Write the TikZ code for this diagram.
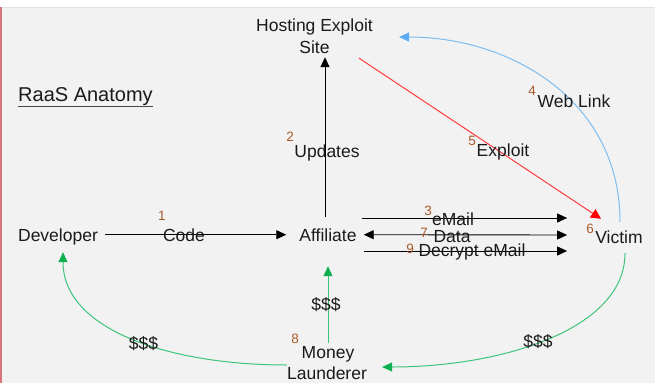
\documentclass[tikz,border=0pt]{standalone}
\usepackage{fontspec}
\setmainfont{Liberation Sans}
\usetikzlibrary{arrows.meta}
\definecolor{bgc}{HTML}{F2F2F2}
\definecolor{topc}{HTML}{E2E2E2}
\definecolor{leftc}{HTML}{D6767B}
\definecolor{txt}{HTML}{1A1A1A}
\definecolor{numc}{HTML}{A85A2A}
\definecolor{redc}{HTML}{FF3B3B}
\definecolor{bluec}{HTML}{7DBDF0}
\definecolor{bluehead}{HTML}{5AABF0}
\definecolor{greenc}{HTML}{3CC47A}
\definecolor{greenhead}{HTML}{10B050}
\begin{document}
\begin{tikzpicture}[x=1pt,y=-1pt,
  lbl/.style={font=\fontsize{17.5}{21}\selectfont, text=txt, inner sep=0pt, text height=12.6pt, text depth=0pt, anchor=center},
  num/.style={font=\fontsize{13.5}{14}\selectfont, text=numc, inner sep=0pt, anchor=center},
  arr/.style={draw=black, line width=0.9pt, -{Triangle[length=10pt,width=9pt]}},
  darr/.style={draw=black, line width=0.9pt, {Triangle[length=10pt,width=9pt]}-{Triangle[length=10pt,width=9pt]}},
  rarr/.style={draw=redc, line width=1pt, -{Triangle[length=10pt,width=10pt,color=red]}},
  barr/.style={draw=bluec, line width=1pt, -{Triangle[length=10pt,width=9pt,color=bluehead]}},
  garr/.style={draw=greenc, line width=1pt, -{Triangle[length=10pt,width=9pt,color=greenhead]}}]
\useasboundingbox (0,0) rectangle (655,383);
\fill[white] (0,0) rectangle (655,383);
\fill[bgc] (0,7) rectangle (655,383);
\draw[topc, line width=1pt] (0,7) -- (655,7);
\fill[leftc] (0,7) rectangle (1.5,383);

% title
\node[lbl, font=\fontsize{20}{24}\selectfont, text height=14.4pt, anchor=west] (title) at (18,94) {RaaS Anatomy};
\draw[draw=txt!80, line width=1.4pt] ([yshift=-5pt]title.south west) -- ([yshift=-5pt]title.south east);

% main nodes
\node[lbl] (hostA) at (314.5,24.7) {Hosting Exploit};
\node[lbl] (host) at (314.5,46.7) {Site};
\node[lbl] (dev) at (58,234.7) {Developer};
\node[lbl] (aff) at (328,234.7) {Affiliate};
\node[lbl] (vic) at (619,236.7) {Victim};
\node[lbl] (mon) at (328,351.7) {Money};
\node[lbl] (monB) at (327,372.7) {Launderer};

% connectors
\draw[arr] ([xshift=7pt]dev.east) -- ([xshift=-13pt]aff.west);
\draw[arr] ([xshift=-3pt,yshift=11.4pt]aff.north) -- ([xshift=10.5pt,yshift=-4pt]host.south);
\draw[arr] ([shift={(5pt,16.7pt)}]aff.east) -- ([shift={(-28pt,18.7pt)}]vic.west);
\draw[darr] ([shift={(7pt,0pt)}]aff.east) -- ([shift={(-28pt,1.7pt)}]vic.west);
\draw[arr] ([shift={(7pt,-16.3pt)}]aff.east) -- ([shift={(-28pt,-14.3pt)}]vic.west);
\draw[rarr] ([shift={(29pt,-11.3pt)}]host.east) -- ([shift={(-18pt,11.4pt)}]vic.north);
\draw[barr] ([shift={(1pt,8.4pt)}]vic.north) .. controls (620,100) and (510,37) .. ([shift={(26pt,-12.3pt)}]hostA.east);
\draw[garr] ([shift={(6pt,-10pt)}]vic.south) .. controls (625,330) and (500,367) .. ([shift={(15pt,5.7pt)}]monB.east);
\draw[garr] ([yshift=2.6pt]mon.north) -- ([yshift=-25pt]aff.south);
\draw[garr] ([yshift=7.7pt]monB.west) .. controls (170,365) and (63,330) .. ([shift={(5pt,-11pt)}]dev.south);

% connector labels
\node[lbl] (code) at (184,234.7) {Code};
\node[lbl] (upd) at (327,150.7) {Updates};
\node[lbl] (email) at (453,218.7) {eMail};
\node[lbl] (data) at (452,235.7) {Data};
\node[lbl] (decrypt) at (472,249.7) {Decrypt eMail};
\node[lbl] (expl) at (503,149.7) {Exploit};
\node[lbl] (web) at (574,100.7) {Web Link};
\node[lbl] (d1) at (326,303.7) {\$\$\$};
\node[lbl] (d2) at (143.5,342.7) {\$\$\$};
\node[lbl] (d3) at (538,340.7) {\$\$\$};

% step numbers
\node[num] (n1) at (162,216) {1};
\node[num] (n2) at (290,137) {2};
\node[num] (n3) at (428,211) {3};
\node[num] (n4) at (532,91) {4};
\node[num] (n5) at (472,141) {5};
\node[num] (n6) at (590,229) {6};
\node[num] (n7) at (424,233) {7};
\node[num] (n8) at (295,339) {8};
\node[num] (n9) at (410,249) {9};
\end{tikzpicture}
\end{document}
